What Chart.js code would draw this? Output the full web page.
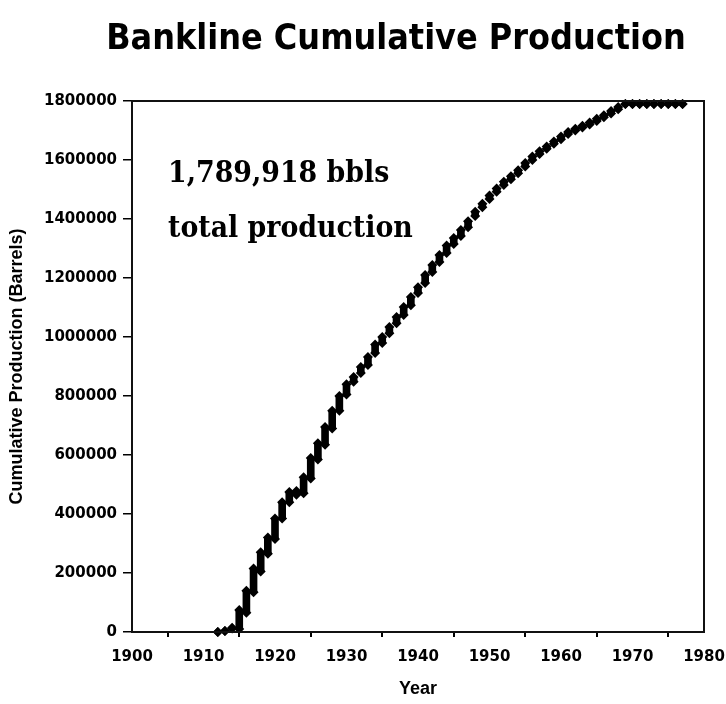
<!DOCTYPE html>
<html lang="en">
<head>
<meta charset="UTF-8">
<title>Bankline Cumulative Production</title>
<script src="https://cdn.jsdelivr.net/npm/chart.js@4.4.1/dist/chart.umd.min.js"></script>
<style>
  html, body { margin: 0; padding: 0; background: #fff; }
  #wrap { width: 726px; height: 704px; position: relative; }
</style>
</head>
<body>
<div id="wrap"><canvas id="prodChart"></canvas></div>
<script>
// yearly cumulative production (barrels)
// each year shows a short vertical run of points: low and high end
var years = [1912, 1913, 1914, 1915, 1916, 1917, 1918, 1919, 1920, 1921,
             1922, 1923, 1924, 1925, 1926, 1927, 1928, 1929, 1930, 1931,
             1932, 1933, 1934, 1935, 1936, 1937, 1938, 1939, 1940, 1941,
             1942, 1943, 1944, 1945, 1946, 1947, 1948, 1949, 1950, 1951,
             1952, 1953, 1954, 1955, 1956, 1957, 1958, 1959, 1960, 1961,
             1962, 1963, 1964, 1965, 1966, 1967, 1968, 1969, 1970, 1971,
             1972, 1973, 1974, 1975, 1976, 1977];
var lowValues = [0, 3000, 12000, 10000, 65000, 135000, 205000, 265000, 315000, 385000,
                 440000, 465000, 470000, 520000, 585000, 635000, 690000, 750000, 805000, 848000,
                 878000, 905000, 946000, 980000, 1013000, 1047000, 1075000, 1108000, 1149000, 1183000,
                 1220000, 1254000, 1285000, 1315000, 1342000, 1372000, 1410000, 1440000, 1468000, 1492000,
                 1515000, 1535000, 1555000, 1578000, 1600000, 1620000, 1638000, 1655000, 1670000, 1688000,
                 1700000, 1710000, 1720000, 1732000, 1745000, 1758000, 1772000, 1789918, 1789918, 1789918,
                 1789918, 1789918, 1789918, 1789918, 1789918, 1789918];
var highValues = [0, 3000, 14000, 75000, 140000, 215000, 270000, 320000, 385000, 440000,
                  475000, 478000, 525000, 590000, 640000, 695000, 750000, 800000, 840000, 864000,
                  898000, 932000, 975000, 1000000, 1034000, 1068000, 1102000, 1136000, 1169000, 1210000,
                  1244000, 1278000, 1310000, 1336000, 1363000, 1392000, 1425000, 1452000, 1480000, 1503000,
                  1526000, 1545000, 1565000, 1590000, 1612000, 1630000, 1646000, 1663000, 1680000, 1695000,
                  1706000, 1716000, 1727000, 1740000, 1752000, 1766000, 1780000, 1789918, 1789918, 1789918,
                  1789918, 1789918, 1789918, 1789918, 1789918, 1789918];

var chartTitle = 'Bankline Cumulative Production';
var noteLines = ['1,789,918 bbls', 'total production'];
var xTitle = 'Year';
var yTitle = 'Cumulative Production (Barrels)';

var tickFont = { family: '"DejaVu Sans", Verdana, sans-serif', size: 15, weight: 'bold' };
var axisTitleFont = { family: '"Liberation Sans", Arial, sans-serif', size: 18, weight: 'bold' };

var rangeData = years.map(function (y, i) { return { x: y, y: [lowValues[i], highValues[i]] }; });
var lowPts = years.map(function (y, i) { return { x: y, y: lowValues[i] }; });
var highPts = years.map(function (y, i) { return { x: y, y: highValues[i] }; });

// title, note text and the plot frame
var decorPlugin = {
  id: 'decor',
  beforeDatasetsDraw: function (chart) {
    var ctx = chart.ctx;
    ctx.save();
    ctx.fillStyle = '#000';
    ctx.textAlign = 'left';
    ctx.textBaseline = 'alphabetic';
    var fam = '"DejaVu Serif Condensed", "DejaVu Serif", serif';
    ctx.font = 'bold 32px ' + fam;
    var w = ctx.measureText(noteLines[1]).width;
    var size = 32 * 245 / w;
    ctx.font = 'bold ' + size.toFixed(1) + 'px ' + fam;
    ctx.fillText(noteLines[0], 168, 182);
    ctx.fillText(noteLines[1], 168, 237);
    ctx.restore();
  },
  afterDraw: function (chart) {
    var ctx = chart.ctx;
    var a = chart.chartArea;
    ctx.save();
    ctx.strokeStyle = '#111';
    ctx.lineWidth = 2;
    ctx.strokeRect(a.left, a.top, a.right - a.left, a.bottom - a.top);

    var fam = '"DejaVu Sans Condensed", "DejaVu Sans", sans-serif';
    ctx.font = 'bold 44px ' + fam;
    var w = ctx.measureText(chartTitle).width;
    var size = 44 * 580 / w;
    ctx.font = 'bold ' + size.toFixed(1) + 'px ' + fam;
    ctx.fillStyle = '#000';
    ctx.textAlign = 'center';
    ctx.textBaseline = 'alphabetic';
    ctx.fillText(chartTitle, 396, 49);
    ctx.restore();
  }
};

var ctx = document.getElementById('prodChart').getContext('2d');
var prodChart = new Chart(ctx, {
  type: 'scatter',
  data: {
    datasets: [
      {
        type: 'bar',
        label: 'range',
        data: rangeData,
        backgroundColor: '#000',
        borderWidth: 0,
        barThickness: 7,
        order: 2
      },
      {
        label: 'low',
        data: lowPts,
        pointStyle: 'rectRot',
        pointRadius: 5,
        backgroundColor: '#000',
        borderColor: '#000',
        borderWidth: 0,
        clip: false,
        order: 1
      },
      {
        label: 'high',
        data: highPts,
        pointStyle: 'rectRot',
        pointRadius: 5,
        backgroundColor: '#000',
        borderColor: '#000',
        borderWidth: 0,
        clip: false,
        order: 1
      }
    ]
  },
  options: {
    responsive: true,
    maintainAspectRatio: false,
    animation: false,
    layout: { padding: { top: 101, right: 22, bottom: 0, left: 0 } },
    plugins: {
      legend: { display: false },
      tooltip: { enabled: false },
      title: { display: false }
    },
    scales: {
      x: {
        type: 'linear',
        offset: false,
        min: 1900,
        max: 1980,
        border: { display: false },
        grid: { display: true, drawOnChartArea: false, drawTicks: true, tickLength: 5, color: '#000', lineWidth: 2 },
        ticks: {
          stepSize: 10,
          color: '#000',
          font: tickFont,
          padding: 11,
          maxRotation: 0,
          callback: function (v) { return String(v); }
        },
        title: { display: true, text: xTitle, color: '#000', font: axisTitleFont, padding: { top: 0, bottom: 4 } },
        afterFit: function (s) {
          s.height = 72;
          // let the layout padding decide the right edge
          s.paddingLeft = 0;
          s.paddingRight = 0;
        }
      },
      y: {
        min: 0,
        max: 1800000,
        border: { display: false },
        grid: { display: true, drawOnChartArea: false, drawTicks: true, tickLength: 9, color: '#000', lineWidth: 1.5 },
        ticks: {
          stepSize: 200000,
          color: '#000',
          font: tickFont,
          padding: 6,
          callback: function (v) { return String(v); }
        },
        title: { display: true, text: yTitle, color: '#000', font: axisTitleFont, padding: { top: 6, bottom: 0 } },
        afterFit: function (s) { s.width = 132; }
      }
    }
  },
  plugins: [decorPlugin]
});
</script>
</body>
</html>
